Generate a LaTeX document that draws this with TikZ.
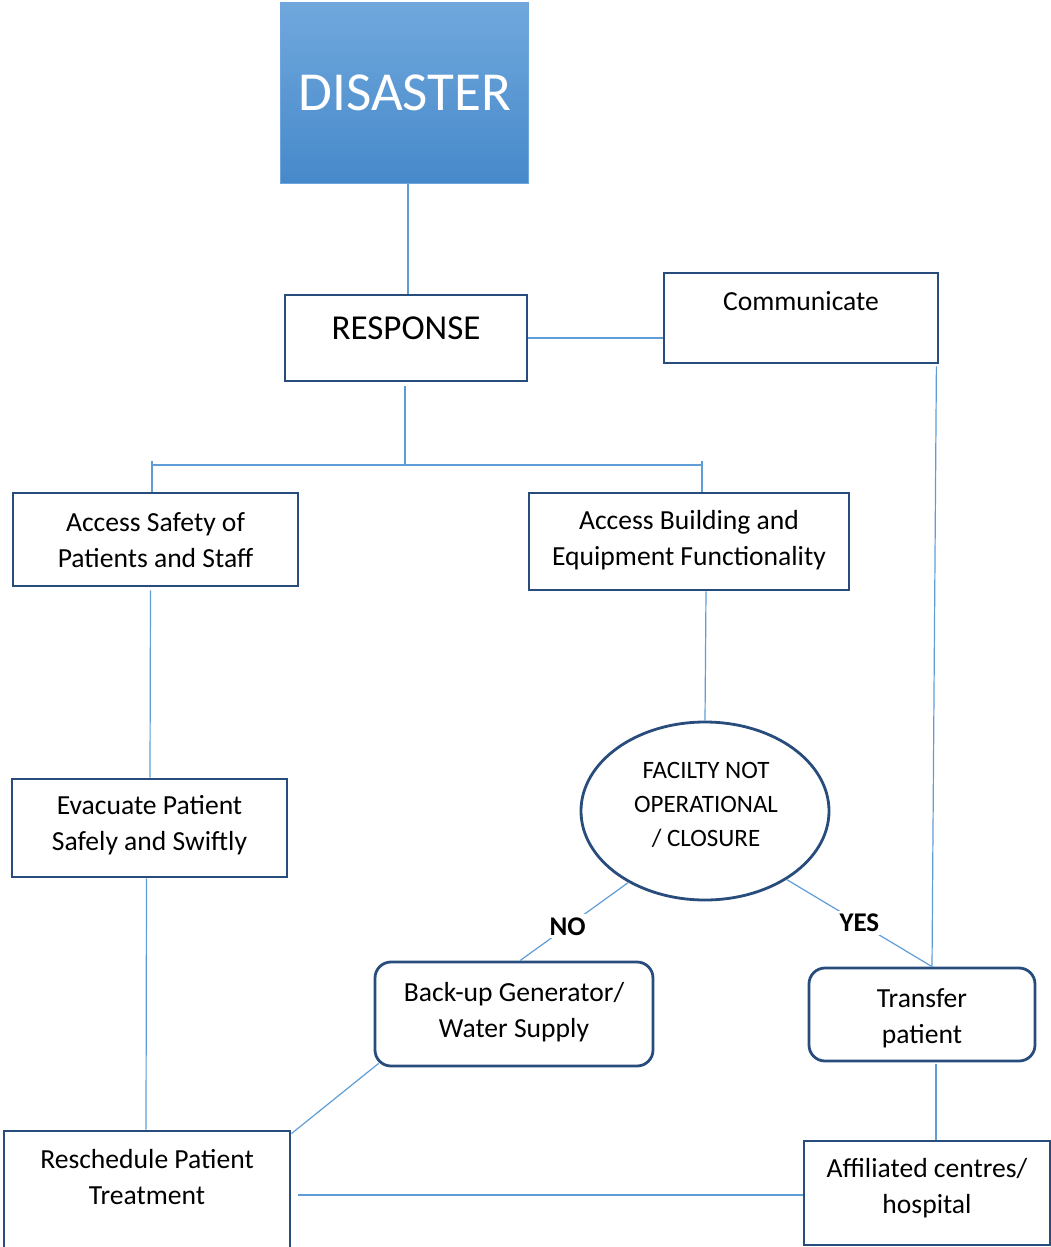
\documentclass[tikz,border=0pt]{standalone}
\usepackage{fontspec}
\setmainfont{Carlito}
\usetikzlibrary{shapes.geometric,calc}
\definecolor{navy}{RGB}{40,76,124}
\definecolor{conn}{RGB}{95,157,215}
\definecolor{topblue}{RGB}{112,168,221}
\definecolor{botblue}{RGB}{70,137,202}
\definecolor{edgeblue}{RGB}{110,165,220}
\begin{document}
\begin{tikzpicture}[x=1pt,y=-1pt,
  box/.style={draw=navy,line width=2.8pt,fill=white,inner sep=0pt},
  rbox/.style={box,rounded corners=16pt},
  txt/.style={font=\fontsize{27.6}{36}\selectfont,align=center,inner sep=0pt},
  conline/.style={draw=conn,line width=1.2pt},
  lab/.style={font=\fontsize{27}{30}\selectfont\bfseries,fill=white,inner sep=3pt}]
\useasboundingbox (0,0) rectangle (1051,1247);
% nodes
\node[draw=edgeblue,line width=1pt,top color=topblue,bottom color=botblue,minimum width=248pt,minimum height=180pt,inner sep=0pt] (dis) at (404,93) {};
\node[font=\fontsize{55}{60}\selectfont,text=white,inner sep=0pt] (dist) at (405,93) {DISASTER};
\node[box,minimum width=242pt,minimum height=86pt] (resp) at (406,338) {};
\node[txt,font=\fontsize{35}{40}\selectfont] (respt) at (406,328) {RESPONSE};
\node[box,minimum width=274pt,minimum height=90pt] (com) at (801,318) {};
\node[txt] (comt) at (801,301) {Communicate};
\node[box,minimum width=285pt,minimum height=93pt] (acs) at (155.5,539.5) {};
\node[txt] (acst) at (155.5,540) {Access Safety of\\Patients and Staff};
\node[box,minimum width=320pt,minimum height=97pt] (acb) at (689,541.5) {};
\node[txt] (acbt) at (689,540) {Access Building and\\Equipment Functionality};
\node[box,minimum width=275pt,minimum height=98pt] (eva) at (149.5,828) {};
\node[txt] (evat) at (149.5,825) {Evacuate Patient\\Safely and Swiftly};
\node[ellipse,draw=navy,line width=2.8pt,fill=white,minimum width=248pt,minimum height=178pt,inner sep=0pt] (fac) at (705,811) {};
\node[txt,font=\fontsize{25}{34}\selectfont] (fact) at (706,805) {FACILTY NOT\\OPERATIONAL\\/ CLOSURE};
\node[rbox,minimum width=278pt,minimum height=104pt] (bk) at (514,1014) {};
\node[txt] (bkt) at (514,1012) {Back-up Generator/\\Water Supply};
\node[rbox,minimum width=226pt,minimum height=93pt] (tr) at (922,1014.5) {};
\node[txt] (trt) at (922,1018) {Transfer\\patient};
\node[box,minimum width=286pt,minimum height=118pt] (res) at (147,1190) {};
\node[txt] (rest) at (147,1177) {Reschedule Patient\\Treatment};
\node[box,minimum width=246pt,minimum height=104pt] (aff) at (927,1193) {};
\node[txt] (afft) at (927,1188) {Affiliated centres/\\hospital};
% junction coordinates
\coordinate (j0) at (405,465);
\coordinate (jl) at (152,465);
\coordinate (jr) at (702,465);
% connectors
\draw[conline] ($(dis.south)+(4,0)$) -- ($(resp.north)+(2,0)$);
\draw[conline] (resp.east) -- (resp.east -| com.west);
\draw[conline] ($(resp.south)+(-1,4)$) -- (j0);
\draw[conline] (jl) -- (jr);
\draw[conline] ($(jl)+(0,-4)$) -- (jl |- acs.north);
\draw[conline] ($(jr)+(0,-4)$) -- (jr |- acb.north);
\draw[conline] ($(acs.south)+(-5,3)$) -- ($(eva.north)+(0.5,0)$);
\draw[conline] ($(acb.south)+(17,0)$) -- (fac.north);
\draw[conline] ($(eva.south)+(-3,0)$) -- ($(res.north)+(-1,0)$);
\draw[conline] ($(com.south east)+(-3,2)$) -- ($(tr.north)+(10,0)$);
\draw[conline] (fac.223) -- node[lab,pos=0.56] (no) {NO} ($(bk.north)+(6,0)$);
\draw[conline] (fac.-40) -- node[lab,pos=0.5] (yes) {YES} ($(tr.north)+(10,0)$);
\draw[conline] ($(bk.south west)+(5,-4)$) -- ($(res.north east)+(0,4)$);
\draw[conline] ($(res.east)+(7,5)$) -- ($(aff.west)+(0,2)$);
\draw[conline] ($(tr.south)+(14,2)$) -- ($(aff.north)+(9,0)$);
\end{tikzpicture}
\end{document}
